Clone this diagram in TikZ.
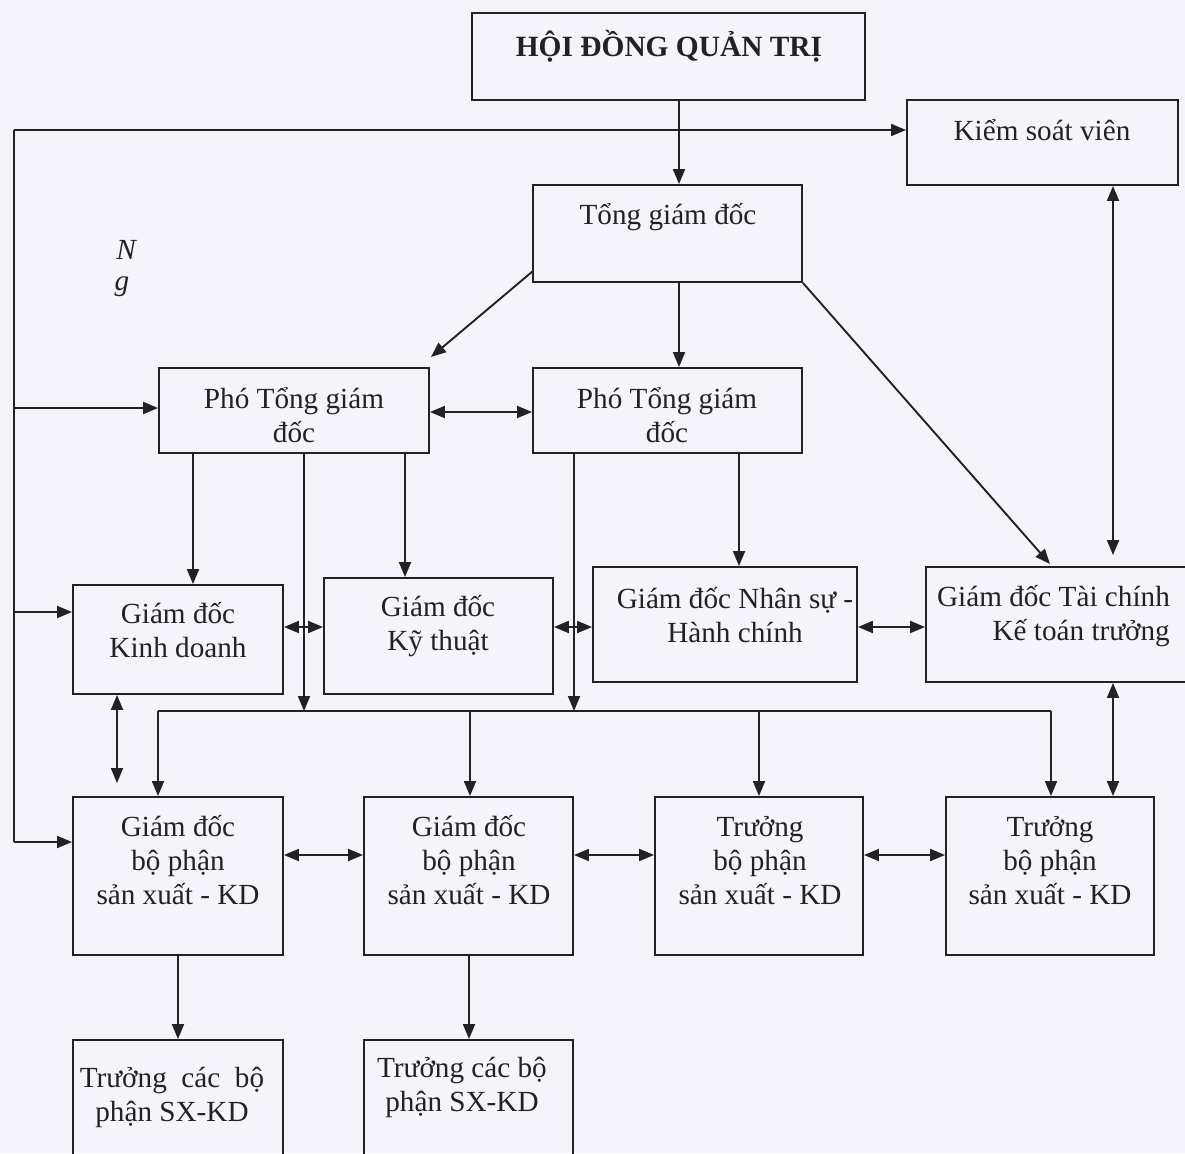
\documentclass[tikz,border=0pt]{standalone}
\usepackage{fontspec}
\setmainfont{Liberation Serif}
\usetikzlibrary{arrows.meta,calc}
\definecolor{bg}{RGB}{244,244,250}
\definecolor{ink}{RGB}{34,34,38}
\tikzset{
  box/.style={draw=ink, line width=1.9pt, rectangle, inner sep=0pt},
  txt/.style={text=ink, font=\fontsize{29.2}{34}\selectfont, align=center, inner sep=0pt},
  conn/.style={draw=ink, line width=1.9pt},
  arr/.style={conn, -{Triangle[length=15pt,width=12pt]}},
  darr/.style={conn, {Triangle[length=15pt,width=12pt]}-{Triangle[length=15pt,width=12pt]}},
}
\begin{document}
\begin{tikzpicture}[x=1pt,y=-1pt]
\fill[bg] (0,0) rectangle (1185,1153);
\useasboundingbox (0,0) rectangle (1185,1153);
\clip (0,0) rectangle (1185,1153);

% boxes
\node[box, minimum width=393pt, minimum height=87pt]  (hdqt)  at (668.5,56.5) {};
\node[box, minimum width=271pt, minimum height=85pt]  (ksv)   at (1042.5,142.5) {};
\node[box, minimum width=269pt, minimum height=97pt]  (tgd)   at (667.5,233.5) {};
\node[box, minimum width=270pt, minimum height=85pt]  (ptgd1) at (294,410.5) {};
\node[box, minimum width=269pt, minimum height=85pt]  (ptgd2) at (667.5,410.5) {};
\node[box, minimum width=210pt, minimum height=109pt] (gdkd)  at (178,639.5) {};
\node[box, minimum width=229pt, minimum height=116pt] (gdkt)  at (438.5,636) {};
\node[box, minimum width=264pt, minimum height=115pt] (gdns)  at (725,624.5) {};
\node[box, minimum width=274pt, minimum height=115pt] (gdtc)  at (1063,624.5) {};
\node[box, minimum width=210pt, minimum height=158pt] (gdbp1) at (178,876) {};
\node[box, minimum width=209pt, minimum height=158pt] (gdbp2) at (468.5,876) {};
\node[box, minimum width=208pt, minimum height=158pt] (tbp1)  at (759,876) {};
\node[box, minimum width=208pt, minimum height=158pt] (tbp2)  at (1050,876) {};
\node[box, minimum width=210pt, minimum height=130pt] (tcbp1) at (178,1105) {};
\node[box, minimum width=209pt, minimum height=130pt] (tcbp2) at (468.5,1105) {};

% texts
\node[txt, font=\bfseries\fontsize{29.4}{34}\selectfont] (hdqt-t) at (669,46) {HỘI ĐỒNG QUẢN TRỊ};
\node[txt] (ksv-t)   at (1042,130) {Kiểm soát viên};
\node[txt] (tgd-t)   at (668,217) {Tổng giám đốc};
\node[txt] (ptgd1-t) at (294,415) {Phó Tổng giám\\đốc};
\node[txt] (ptgd2-t) at (667,415) {Phó Tổng giám\\đốc};
\node[txt] (gdkd-t)  at (178,630) {Giám đốc\\Kinh doanh};
\node[txt] (gdkt-t)  at (438,626) {Giám đốc\\Kỹ thuật};
\node[txt] (gdns-t)  at (735,615) {Giám đốc Nhân sự -\\Hành chính};
\node[txt, align=right, anchor=east] (gdtc-t) at (1170,616) {Giám đốc Tài chính\\Kế toán trưởng};
\node[txt] (gdbp1-t) at (178,860) {Giám đốc\\bộ phận\\sản xuất - KD};
\node[txt] (gdbp2-t) at (469,860) {Giám đốc\\bộ phận\\sản xuất - KD};
\node[txt] (tbp1-t)  at (760,861) {Trưởng\\bộ phận\\sản xuất - KD};
\node[txt] (tbp2-t)  at (1050,861) {Trưởng\\bộ phận\\sản xuất - KD};
\node[txt] (tcbp1-t) at (172,1097) {Trưởng\ \ các\ \ bộ\\phận SX-KD};
\node[txt] (tcbp2-t) at (462,1087) {Trưởng các bộ\\phận SX-KD};
\node[txt, font=\itshape\fontsize{29.2}{34}\selectfont] (nN) at (126,250) {N};
\node[txt, font=\itshape\fontsize{29.2}{34}\selectfont] (ng) at (122,287) {g};

% helper coordinates
\coordinate (cA) at (679,0);
\coordinate (cK) at (1113,0);
\coordinate (busTL) at (14,130);
\coordinate (busBL) at (14,842);
\coordinate (busP) at (14,408);
\coordinate (busK) at (14,612);
\coordinate (d1s) at (533,271);
\coordinate (d1e) at (431,357);
\coordinate (d2e) at (1050,564);
\coordinate (x193) at (193,0);
\coordinate (x304) at (304,0);
\coordinate (x405) at (405,0);
\coordinate (x574) at (574,0);
\coordinate (x739) at (739,0);
\coordinate (x117) at (117,0);
\coordinate (x178) at (178,0);
\coordinate (x469) at (469,0);
\coordinate (busL) at (158,711);
\coordinate (busR) at (1051,711);
\coordinate (bus470) at (470,711);
\coordinate (bus759) at (759,711);
\coordinate (y412) at (0,412);
\coordinate (y627) at (0,627);
\coordinate (y855) at (0,855);

% connectors
\draw[arr] (hdqt.south -| cA) -- (tgd.north -| cA);
\draw[arr] (tgd.south -| cA) -- (ptgd2.north -| cA);
\draw[conn] (busTL) -- (busBL);
\draw[arr] (busTL) -- (busTL -| ksv.west);
\draw[arr] (busP) -- (busP -| ptgd1.west);
\draw[arr] (busK) -- (busK -| gdkd.west);
\draw[arr] (busBL) -- (busBL -| gdbp1.west);
\draw[arr] (d1s) -- (d1e);
\draw[arr] (tgd.south east) -- (d2e);
\draw[darr, shorten >=11pt] (ksv.south -| cK) -- (gdtc.north -| cK);
\draw[darr] (gdtc.south -| cK) -- (tbp2.north -| cK);
\draw[darr] (ptgd1.east |- y412) -- (ptgd2.west |- y412);
\draw[arr] (ptgd1.south -| x193) -- (gdkd.north -| x193);
\draw[arr] (ptgd1.south -| x304) -- (busL -| x304);
\draw[arr] (ptgd1.south -| x405) -- (gdkt.north -| x405);
\draw[arr] (ptgd2.south -| x574) -- (busL -| x574);
\draw[arr] (ptgd2.south -| x739) -- (gdns.north -| x739);
\draw[conn] (busL) -- (busR);
\draw[arr] (busL) -- (busL |- gdbp1.north);
\draw[arr] (bus470) -- (bus470 |- gdbp2.north);
\draw[arr] (bus759) -- (bus759 |- tbp1.north);
\draw[arr] (busR) -- (busR |- tbp2.north);
\draw[darr, shorten >=13pt] (gdkd.south -| x117) -- (gdbp1.north -| x117);
\draw[darr] (gdkd.east |- y627) -- (gdkt.west |- y627);
\draw[darr] (gdkt.east |- y627) -- (gdns.west |- y627);
\draw[darr] (gdns.east |- y627) -- (gdtc.west |- y627);
\draw[darr] (gdbp1.east |- y855) -- (gdbp2.west |- y855);
\draw[darr] (gdbp2.east |- y855) -- (tbp1.west |- y855);
\draw[darr] (tbp1.east |- y855) -- (tbp2.west |- y855);
\draw[arr] (gdbp1.south -| x178) -- (tcbp1.north -| x178);
\draw[arr] (gdbp2.south -| x469) -- (tcbp2.north -| x469);
\end{tikzpicture}
\end{document}
